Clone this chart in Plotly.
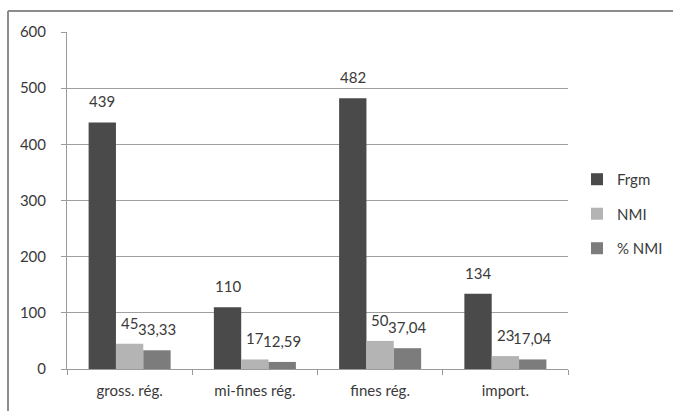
import plotly.graph_objects as go

categories = ["gross. rég.", "mi-fines rég.", "fines rég.", "import."]
series_names = ["Frgm", "NMI", "% NMI"]
frgm = [439, 110, 482, 134]
nmi = [45, 17, 50, 23]
pct_nmi = [33.33, 12.59, 37.04, 17.04]
labels_frgm = ["439", "110", "482", "134"]
labels_nmi = ["45", "17", "50", "23"]
labels_pct = ["33,33", "12,59", "37,04", "17,04"]
y_ticks = [0, 100, 200, 300, 400, 500, 600]

colors = ["#4a4a4a", "#b4b4b4", "#7c7c7c"]
font_family = "Lato, 'Open Sans', sans-serif"
text_color = "#3a3a3a"
fs = 15

W, H = 673, 411
ml, mr, mt, mb = 67, 105, 32, 42
plot_w = W - ml - mr
plot_h = H - mt - mb
bargap = 0.345

fig = go.Figure()
all_vals = [frgm, nmi, pct_nmi]
all_labels = [labels_frgm, labels_nmi, labels_pct]
for i, (name, vals) in enumerate(zip(series_names, all_vals)):
    fig.add_trace(go.Bar(
        x=categories, y=vals, name=name,
        marker=dict(color=colors[i], line=dict(width=0)),
        legendgroup=name,
    ))

bar_px = plot_w / len(categories) * (1 - bargap) / len(series_names)
for i, (vals, labs) in enumerate(zip(all_vals, all_labels)):
    for c, v, t in zip(categories, vals, labs):
        fig.add_annotation(
            x=c, y=v, text=t, showarrow=False,
            xanchor="center", yanchor="bottom",
            xshift=(i - 1) * bar_px, yshift=10,
            font=dict(family=font_family, size=fs, color=text_color),
        )

# chart frame (top and left lines)
top_y = (H - mb - 11) / plot_h
left_x = (8 - ml) / plot_w
fig.add_shape(type="line", xref="paper", yref="paper",
              x0=left_x, x1=(W - ml) / plot_w, y0=top_y, y1=top_y,
              line=dict(color="#8c8c8c", width=2))
fig.add_shape(type="line", xref="paper", yref="paper",
              x0=left_x, x1=left_x, y0=top_y, y1=-mb / plot_h,
              line=dict(color="#8c8c8c", width=2))

fig.update_layout(
    width=W, height=H,
    margin=dict(l=ml, r=mr, t=mt, b=mb, pad=0, autoexpand=False),
    paper_bgcolor="white", plot_bgcolor="white",
    barmode="group", bargap=bargap, bargroupgap=0,
    font=dict(family=font_family, size=fs, color=text_color),
    showlegend=True,
    legend=dict(
        xref="container", x=577 / W, xanchor="left", y=0.46, yanchor="middle",
        traceorder="grouped", tracegroupgap=12,
        font=dict(family=font_family, size=fs, color=text_color),
        itemwidth=30,
    ),
    xaxis=dict(
        type="category", showgrid=False, showline=True,
        linecolor="#9a9a9a", linewidth=1,
        ticks="outside", tickson="boundaries", ticklen=5, tickcolor="#9a9a9a",
        tickfont=dict(family=font_family, size=fs, color=text_color),
        ticklabelstandoff=8,
    ),
    yaxis=dict(
        range=[0, 600], tickvals=y_ticks, showgrid=True,
        gridcolor="#a0a0a0", gridwidth=1,
        showline=True, linecolor="#9a9a9a", linewidth=1,
        ticks="outside", ticklen=5, tickcolor="#9a9a9a",
        tickfont=dict(family=font_family, size=fs, color=text_color),
        ticklabelstandoff=12, zeroline=False,
    ),
)

fig.write_html(
    "out.html",
    config={"displayModeBar": False},
    post_script="document.body.style.margin='0';document.body.style.overflow='hidden';",
)
